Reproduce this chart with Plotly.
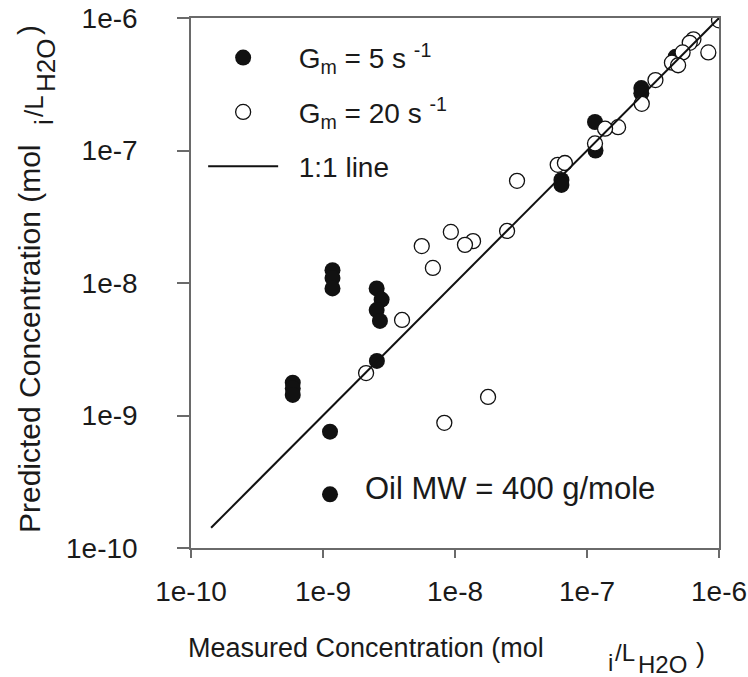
import plotly.graph_objects as go

# ---- data ----
g5_measured = [1.18e-9, 1.18e-9, 1.18e-9, 2.55e-9, 2.78e-9, 2.55e-9, 2.70e-9, 2.56e-9,
               5.9e-10, 5.9e-10, 5.9e-10, 1.13e-9, 1.13e-9,
               6.4e-8, 6.4e-8, 1.15e-7, 1.16e-7, 2.58e-7, 2.58e-7, 4.7e-7]
g5_predicted = [1.25e-8, 1.09e-8, 9.1e-9, 9.1e-9, 7.5e-9, 6.25e-9, 5.17e-9, 2.58e-9,
                1.77e-9, 1.60e-9, 1.43e-9, 7.55e-10, 2.54e-10,
                6.0e-8, 5.5e-8, 1.64e-7, 1.0e-7, 2.96e-7, 2.7e-7, 5.1e-7]

g20_measured = [1.0e-6, 8.3e-7, 6.4e-7, 6.0e-7, 5.3e-7, 4.4e-7, 4.9e-7, 3.3e-7, 2.6e-7,
                1.72e-7, 1.37e-7, 1.15e-7, 6.0e-8, 6.8e-8, 2.95e-8, 2.48e-8, 1.37e-8,
                1.19e-8, 9.3e-9, 5.6e-9, 6.8e-9, 3.97e-9, 2.12e-9, 1.78e-8, 8.3e-9]
g20_predicted = [9.6e-7, 5.5e-7, 6.9e-7, 6.5e-7, 5.5e-7, 4.6e-7, 4.4e-7, 3.4e-7, 2.25e-7,
                 1.5e-7, 1.46e-7, 1.13e-7, 7.8e-8, 8.05e-8, 5.9e-8, 2.47e-8, 2.07e-8,
                 1.94e-8, 2.43e-8, 1.9e-8, 1.3e-8, 5.26e-9, 2.09e-9, 1.38e-9, 8.8e-10]

line_x = [1.42e-10, 1.0e-6]
line_y = [1.42e-10, 1.0e-6]

tick_vals = [1e-10, 1e-9, 1e-8, 1e-7, 1e-6]
tick_text = ["1e-10", "1e-9", "1e-8", "1e-7", "1e-6"]

FONT = "Arial, Liberation Sans, sans-serif"
TXT = "#1a1a1a"
AX = "#6a6a6a"

# plot area in pixels
L, R, T, B = 191, 719, 18, 548


def px(xp):
    return (xp - L) / (R - L)


def py(yp):
    return (B - yp) / (B - T)


fig = go.Figure()
fig.add_trace(go.Scatter(
    x=g5_measured, y=g5_predicted, mode="markers",
    name="&nbsp;&nbsp;G<sub>m</sub> = 5 s <sup>-1</sup>", legendgroup="a",
    marker=dict(symbol="circle", size=16, color="#111111", line=dict(width=0)),
))
fig.add_trace(go.Scatter(
    x=g20_measured, y=g20_predicted, mode="markers",
    name="&nbsp;&nbsp;G<sub>m</sub> = 20 s <sup>-1</sup>", legendgroup="b",
    marker=dict(symbol="circle", size=15, color="white", line=dict(width=1.3, color="#111111")),
))
fig.add_trace(go.Scatter(
    x=line_x, y=line_y, mode="lines", name="&nbsp;&nbsp;1:1 line", legendgroup="c",
    line=dict(color="#111111", width=2),
))

axis_common = dict(
    type="log", tickvals=tick_vals, ticktext=tick_text, automargin=False,
    showgrid=False, zeroline=False, showline=True, linecolor=AX, linewidth=1.5,
    mirror=True, ticks="outside", tickcolor=AX, tickwidth=1.5,
    tickfont=dict(family=FONT, size=28, color=TXT),
)


def ann(text, x, y, size, xanchor="center", angle=0):
    return dict(text=text, xref="paper", yref="paper", x=px(x), y=py(y),
                xanchor=xanchor, yanchor="middle", showarrow=False, textangle=angle,
                borderpad=0, font=dict(family=FONT, size=size, color=TXT))


annotations = [
    ann("Oil MW = 400 g/mole", 510, 488, 31),
    # x-axis title
    ann("Measured Concentration (mol", 545, 648, 27, xanchor="right"),
    ann("i", 607, 662, 24, xanchor="left"),
    ann("/L", 614, 652, 24, xanchor="left"),
    ann("H2O", 637, 664, 24, xanchor="left"),
    ann(")", 695, 653, 27, xanchor="left"),
    # y-axis title (rotated, reads bottom to top)
    ann("Predicted Concentration (mol", 29, 339, 30, angle=-90),
    ann("i", 44, 122, 26, angle=-90),
    ann("/L", 34, 106, 26, angle=-90),
    ann("H2O", 46, 66, 26, angle=-90),
    ann(")", 29, 30, 30, angle=-90),
]

fig.update_layout(
    width=748, height=677,
    margin=dict(l=L, r=748 - R, t=T, b=677 - B),
    paper_bgcolor="white", plot_bgcolor="white",
    xaxis=dict(range=[-10, -6], ticklen=8, ticklabelstandoff=10, **axis_common),
    yaxis=dict(range=[-10, -6], ticklen=12, ticklabelstandoff=34, **axis_common),
    showlegend=True,
    legend=dict(
        x=0.023, y=0.972, xanchor="left", yanchor="top",
        bgcolor="rgba(0,0,0,0)", borderwidth=0,
        font=dict(family=FONT, size=28, color=TXT),
        traceorder="grouped", tracegroupgap=15, itemwidth=70,
    ),
    annotations=annotations,
)

fig.write_html("out.html")
